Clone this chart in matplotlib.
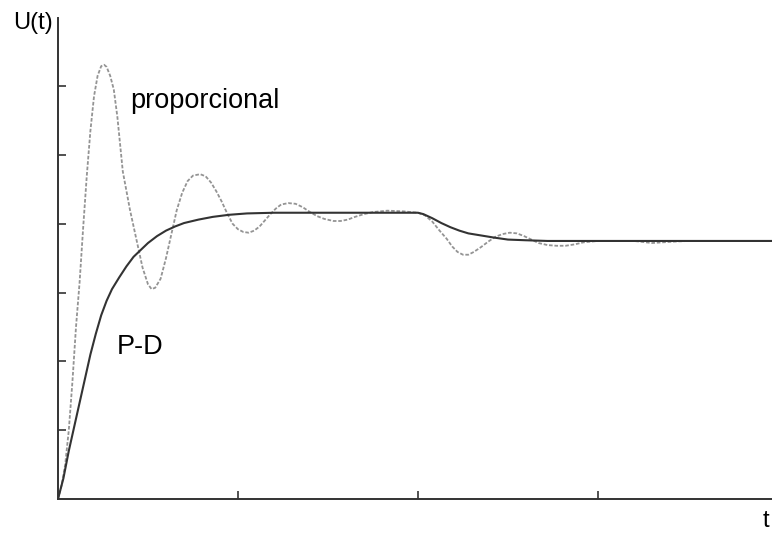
import matplotlib.pyplot as plt

plt.rcParams['font.family'] = ['Liberation Sans', 'DejaVu Sans']

# curva P-D
pd_t = [0, 0.03, 0.06, 0.09, 0.12, 0.15, 0.18, 0.21, 0.24, 0.27, 0.30, 0.34,
        0.38, 0.42, 0.46, 0.50, 0.55, 0.60, 0.65, 0.70, 0.78, 0.86, 0.95, 1.05,
        1.2, 2.0, 2.03, 2.08, 2.13, 2.18, 2.23, 2.28, 2.35, 2.42, 2.5, 2.6,
        2.72, 3.97]
pd_u = [0, 0.3, 0.7, 1.05, 1.4, 1.75, 2.1, 2.4, 2.67, 2.88, 3.05, 3.22,
        3.38, 3.52, 3.62, 3.72, 3.82, 3.90, 3.96, 4.01, 4.06, 4.10, 4.13, 4.15,
        4.16, 4.16, 4.14, 4.08, 4.01, 3.95, 3.90, 3.86, 3.83, 3.80, 3.77, 3.76,
        3.75, 3.75]

# curva proporcional
pr_t = [0, 0.02, 0.04, 0.06, 0.08, 0.10, 0.12, 0.14, 0.16, 0.18, 0.20, 0.22,
        0.24, 0.256, 0.27, 0.29, 0.31, 0.33, 0.36, 0.40, 0.44, 0.47, 0.50,
        0.52, 0.54, 0.57, 0.60, 0.63, 0.66, 0.69, 0.72, 0.75, 0.79, 0.82, 0.85,
        0.88, 0.91, 0.94, 0.97, 1.0, 1.03, 1.06, 1.09, 1.12, 1.15, 1.18, 1.21,
        1.24, 1.28, 1.32, 1.36, 1.40, 1.44, 1.48, 1.53, 1.57, 1.61, 1.65, 1.70,
        1.75, 1.83, 1.92, 2.0, 2.04, 2.08, 2.12, 2.16, 2.19, 2.22, 2.25, 2.28,
        2.31, 2.35, 2.39, 2.43, 2.47, 2.51, 2.55, 2.59, 2.63, 2.67, 2.72, 2.77,
        2.82, 2.87, 2.92, 3.0, 3.2, 3.3, 3.42, 3.5, 3.97]
pr_u = [0, 0.2, 0.5, 1.0, 1.7, 2.5, 3.15, 3.95, 4.7, 5.35, 5.85, 6.15,
        6.29, 6.31, 6.28, 6.15, 5.95, 5.55, 4.76, 4.2, 3.72, 3.36, 3.12,
        3.05, 3.07, 3.2, 3.5, 3.85, 4.2, 4.45, 4.62, 4.70, 4.72, 4.69, 4.6,
        4.47, 4.32, 4.15, 4.0, 3.92, 3.88, 3.87, 3.9, 3.96, 4.05, 4.14, 4.22,
        4.28, 4.30, 4.29, 4.24, 4.17, 4.11, 4.07, 4.04, 4.04, 4.06, 4.10, 4.14,
        4.17, 4.19, 4.18, 4.16, 4.12, 4.03, 3.9, 3.78, 3.67, 3.59, 3.55, 3.55,
        3.59, 3.66, 3.74, 3.81, 3.85, 3.87, 3.86, 3.82, 3.77, 3.72, 3.69, 3.68,
        3.68, 3.70, 3.73, 3.75, 3.75, 3.72, 3.74, 3.75, 3.75]

fig = plt.figure(figsize=(7.72, 5.34), dpi=100)
ax = fig.add_axes([58 / 772, 35 / 534, 714 / 772, 481 / 534])

ax.plot(pr_t, pr_u, color='#949494', lw=1.3, linestyle=(0, (2, 1)))
ax.plot(pd_t, pd_u, color='#333333', lw=1.5)

ax.set_xlim(0, 3.967)
ax.set_ylim(0, 6.99)
ax.set_xticks([1, 2, 3])
ax.set_yticks([1, 2, 3, 4, 5, 6])
ax.tick_params(direction='in', length=6, width=1.2, color='#333333',
               labelbottom=False, labelleft=False)
ax.spines['top'].set_visible(False)
ax.spines['right'].set_visible(False)
for s in ['left', 'bottom']:
    ax.spines[s].set_linewidth(1.4)
    ax.spines[s].set_color('#333333')

ax.text(0.4, 5.78, 'proporcional', fontsize=19.5, va='center', ha='left')
ax.text(0.328, 2.21, 'P-D', fontsize=19.5, va='center', ha='left')
fig.text(33 / 772, 1 - 23 / 534, 'U(t)', fontsize=17, va='center', ha='center')
fig.text(766 / 772, 1 - 521 / 534, 't', fontsize=17, va='center', ha='center')

fig.savefig('out.png', dpi=100)
